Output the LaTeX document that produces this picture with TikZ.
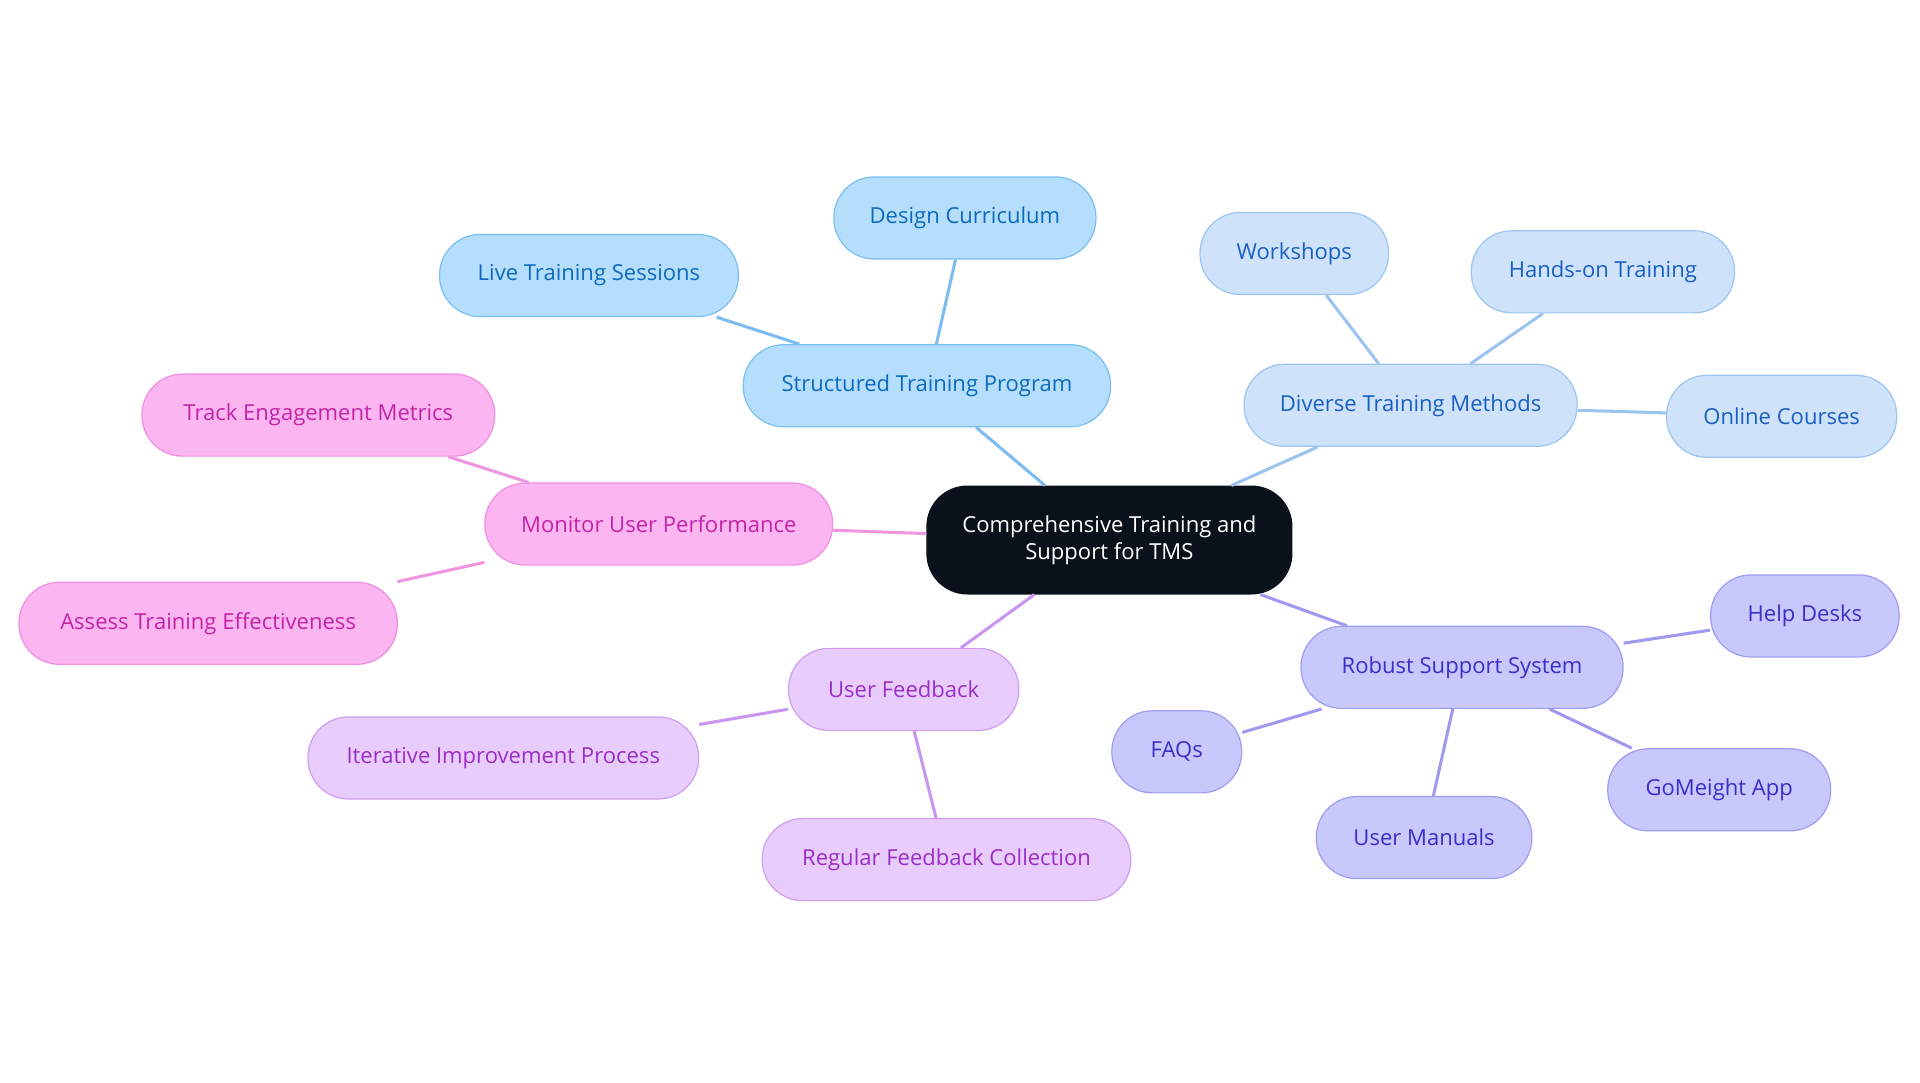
\documentclass[tikz,border=0pt]{standalone}
\usepackage{fontspec}
\setmainfont{Open Sans}
\begin{document}
\begin{tikzpicture}[x=1pt,y=-1pt,
 every node/.style={font=\fontsize{18}{22}\selectfont},
 base/.style={rounded corners=33, minimum height=67, line width=1pt, align=center},
 bl/.style={base,fill={rgb,255:red,181;green,222;blue,252},draw={rgb,255:red,121;green,191;blue,240},text={rgb,255:red,12;green,107;blue,191}},
 lb/.style={base,fill={rgb,255:red,206;green,226;blue,250},draw={rgb,255:red,158;green,197;blue,240},text={rgb,255:red,26;green,95;blue,196}},
 pk/.style={base,fill={rgb,255:red,251;green,181;blue,240},draw={rgb,255:red,240;green,142;blue,224},text={rgb,255:red,196;green,36;blue,168}},
 lv/.style={base,fill={rgb,255:red,232;green,204;blue,252},draw={rgb,255:red,207;green,158;blue,240},text={rgb,255:red,154;green,47;blue,200}},
 pu/.style={base,fill={rgb,255:red,200;green,200;blue,252},draw={rgb,255:red,158;green,158;blue,240},text={rgb,255:red,58;green,47;blue,200}},
 eb/.style={line width=2.5pt,draw={rgb,255:red,124;green,188;blue,240}},
 el/.style={line width=2.5pt,draw={rgb,255:red,156;green,196;blue,240}},
 ep/.style={line width=2.5pt,draw={rgb,255:red,240;green,150;blue,224}},
 ev/.style={line width=2.5pt,draw={rgb,255:red,200;green,150;blue,240}},
 eu/.style={line width=2.5pt,draw={rgb,255:red,159;green,154;blue,240}}]
\useasboundingbox (0,0) rectangle (1568,884);
\node[base,fill={rgb,255:red,11;green,17;blue,26},draw={rgb,255:red,11;green,17;blue,26},text=white,minimum width=298,minimum height=88] (c) at (906,441) {Comprehensive Training and\\Support for TMS};
\node[bl,minimum width=300] (stp) at (757,315) {Structured Training Program};
\node[bl,minimum width=214] (dc) at (788,178) {Design Curriculum};
\node[bl,minimum width=244] (lts) at (481,225) {Live Training Sessions};
\node[lb,minimum width=272] (dtm) at (1152,331) {Diverse Training Methods};
\node[lb,minimum width=154] (ws) at (1057,207) {Workshops};
\node[lb,minimum width=215] (hot) at (1309,222) {Hands-on Training};
\node[lb,minimum width=188] (oc) at (1455,340) {Online Courses};
\node[pk,minimum width=284] (mup) at (538,428) {Monitor User Performance};
\node[pk,minimum width=288] (tem) at (260,339) {Track Engagement Metrics};
\node[pk,minimum width=309] (ate) at (170,509) {Assess Training Effectiveness};
\node[lv,minimum width=188] (uf) at (738,563) {User Feedback};
\node[lv,minimum width=319] (iip) at (411,619) {Iterative Improvement Process};
\node[lv,minimum width=301] (rfc) at (773,702) {Regular Feedback Collection};
\node[pu,minimum width=263] (rss) at (1194,545) {Robust Support System};
\node[pu,minimum width=154] (hd) at (1474,503) {Help Desks};
\node[pu,minimum width=106] (faq) at (961,614) {FAQs};
\node[pu,minimum width=176] (um) at (1163,684) {User Manuals};
\node[pu,minimum width=182] (ga) at (1404,645) {GoMeight App};
\begin{scope}[on background layer/.try]
\end{scope}
\draw[eb] (c) -- (stp); \draw[eb] (stp) -- (dc); \draw[eb] (stp) -- (lts);
\draw[el] (c) -- (dtm); \draw[el] (dtm) -- (ws); \draw[el] (dtm) -- (hot); \draw[el] (dtm) -- (oc);
\draw[ep] (c) -- (mup); \draw[ep] (mup) -- (tem); \draw[ep] (mup) -- (ate);
\draw[ev] (c) -- (uf); \draw[ev] (uf) -- (iip); \draw[ev] (uf) -- (rfc);
\draw[eu] (c) -- (rss); \draw[eu] (rss) -- (hd); \draw[eu] (rss) -- (faq); \draw[eu] (rss) -- (um); \draw[eu] (rss) -- (ga);
\end{tikzpicture}
\end{document}
